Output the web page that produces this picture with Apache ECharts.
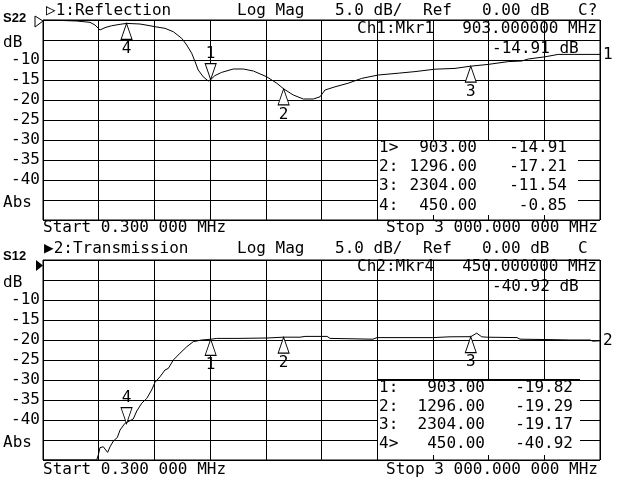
<!DOCTYPE html>
<html>
<head>
<meta charset="utf-8">
<script src="https://cdn.jsdelivr.net/npm/echarts@6/dist/echarts.min.js"></script>
<style>
html,body{margin:0;padding:0;background:#fff;}
#chart{width:628px;height:478px;}
</style>
</head>
<body>
<div id="chart"></div>
<script>
// ---- data ----
const markerFreqs = [903, 1296, 2304, 450];
const s22MarkerVals = [-14.91, -17.21, -11.54, -0.85];
const s12MarkerVals = [-19.82, -19.29, -19.17, -40.92];
const s22Active = 0; // marker 1
const s12Active = 3; // marker 4

const s22Freq = [0.3, 90, 181, 253, 280, 307, 334, 370, 415, 450, 522, 576, 603, 657, 702, 747, 774, 801, 819, 836, 863, 890, 903, 926, 962, 1025, 1079, 1133, 1205, 1259, 1296, 1348, 1402, 1456, 1492, 1519, 1573, 1644, 1716, 1806, 1914, 2004, 2111, 2219, 2304, 2398, 2506, 2578, 2614, 2704, 2775, 2865, 3000];
const s22Db = [-0.05, -0.1, -0.25, -0.58, -1.25, -2.5, -1.9, -1.43, -1.08, -0.85, -1.0, -1.43, -1.68, -2.08, -2.93, -4.58, -6.25, -8.33, -10.4, -12.5, -14.2, -15.25, -14.91, -13.9, -13.1, -12.25, -12.25, -12.75, -14.2, -15.8, -17.21, -18.75, -19.75, -19.75, -19.2, -17.5, -16.7, -15.8, -14.6, -13.75, -13.3, -12.9, -12.3, -12.1, -11.54, -11.1, -10.4, -10.25, -9.75, -9.2, -8.6, -8.6, -8.6];

const s12Freq = [0.3, 289, 298, 307, 325, 334, 348, 361, 379, 400, 415, 442, 450, 486, 505, 532, 559, 585, 603, 630, 657, 675, 702, 738, 774, 810, 855, 903, 936, 1050, 1206, 1296, 1384, 1411, 1530, 1546, 1777, 1799, 2100, 2192, 2304, 2336, 2363, 2391, 2553, 2569, 2731, 2838, 2946, 2962, 3000];
const s12Db = [-50, -50, -48.75, -46.9, -46.7, -47.1, -48.1, -46.7, -45.25, -44.4, -42.5, -40.8, -40.92, -39.75, -37.75, -35.8, -34.6, -32.5, -30.6, -29.2, -27.5, -27.1, -25, -23.3, -21.7, -20.4, -20, -19.82, -19.6, -19.6, -19.5, -19.29, -19.3, -19.1, -19.1, -19.6, -19.8, -19.4, -19.4, -19.2, -19.17, -18.3, -19.2, -19.3, -19.4, -19.8, -19.9, -20.0, -20.0, -20.3, -20.2];

const yLabelMap = {'0': '', '-5': 'dB', '-45': 'Abs', '-50': ''};
const startLabel = 'Start 0.300 000 MHz';
const stopLabel = 'Stop 3 000.000 000 MHz';

// ---- chart ----
const FONT = '"DejaVu Sans Mono", monospace';
const F16 = '16px ' + FONT;

function yFormatter(v) {
  const k = String(v);
  if (k in yLabelMap) {
    const t = yLabelMap[k];
    if (!t) return '';
    return '{w|' + t + '}';
  }
  return k;
}

function xAxisFor(i) {
  return {
    gridIndex: i, type: 'value', min: 0, max: 3000, interval: 300,
    axisLabel: {show: false}, axisTick: {show: false}, axisLine: {show: false},
    splitLine: {show: true, lineStyle: {color: '#000', width: 1}}
  };
}
function yAxisFor(i) {
  return {
    gridIndex: i, type: 'value', min: -50, max: 0, interval: 5,
    axisTick: {show: false}, axisLine: {show: false},
    splitLine: {show: true, lineStyle: {color: '#000', width: 1}},
    axisLabel: {
      margin: 3, color: '#000', fontFamily: FONT, fontSize: 16,
      formatter: yFormatter,
      rich: {w: {width: 37, align: 'left', fontFamily: FONT, fontSize: 16, color: '#000', padding: [6, 0, 0, 0]}}
    }
  };
}

const DOWN_TRI = 'path://M0,0L2,0L1,3Z';
function markers(vals, active) {
  return markerFreqs.map((f, i) => {
    const isAct = i === active;
    return {
      coord: [f, vals[i]],
      name: String(i + 1),
      symbol: isAct ? DOWN_TRI : 'triangle',
      symbolSize: [11, 16],
      symbolOffset: [0, isAct ? -8 : 8],
      label: {show: true, position: isAct ? 'top' : 'bottom', distance: 1, formatter: '{b}',
        color: '#000', fontFamily: FONT, fontSize: 16}
    };
  });
}

function lineSeries(idx, freq, db, vals, active, endText) {
  return {
    type: 'line', xAxisIndex: idx, yAxisIndex: idx,
    data: freq.map((f, i) => [f, db[i]]),
    showSymbol: false, smooth: false,
    lineStyle: {color: '#000', width: 1},
    endLabel: {show: true, formatter: endText, distance: 3, color: '#000', fontFamily: FONT, fontSize: 16},
    markPoint: {
      itemStyle: {color: '#fff', borderColor: '#000', borderWidth: 1},
      data: markers(vals, active)
    }
  };
}

function txt(text, x, y, align, extra) {
  return Object.assign({
    type: 'text', x: x, y: y, z: 20,
    style: {text: text, font: F16, fill: '#000', align: align || 'left', verticalAlign: 'middle'}
  }, extra || {});
}

function tableRows(vals, active, yRows, xFreqEnd, xValEnd) {
  const out = [];
  markerFreqs.forEach((f, i) => {
    const lab = (i + 1) + (i === active ? '>' : ':');
    out.push(txt(lab, 379, yRows[i], 'left'));
    out.push(txt(f.toFixed(2), xFreqEnd, yRows[i], 'right'));
    out.push(txt(vals[i].toFixed(2), xValEnd, yRows[i], 'right'));
  });
  return out;
}

const graphics = [
  // table backgrounds
  {type: 'rect', z: 10, shape: {x: 378, y: 141, width: 200, height: 74}, style: {fill: '#fff'}},
  {type: 'rect', z: 10, shape: {x: 378, y: 381, width: 202, height: 74}, style: {fill: '#fff'}},
  {type: 'rect', z: 11, shape: {x: 378, y: 379, width: 202, height: 2}, style: {fill: '#000'}},
  // reference level triangles
  {type: 'polygon', z: 12, shape: {points: [[35, 16], [43, 21], [35, 27]]}, style: {fill: '#fff', stroke: '#000', lineWidth: 1}},
  {type: 'polygon', z: 12, shape: {points: [[36, 260], [43, 265.5], [36, 271]]}, style: {fill: '#000'}},
  // channel labels
  {type: 'text', x: 3, y: 18, z: 20, style: {text: 'S22', font: 'bold 13px "Liberation Sans", Arial, sans-serif', fill: '#000', verticalAlign: 'middle'}},
  {type: 'text', x: 3, y: 256, z: 20, style: {text: 'S12', font: 'bold 13px "Liberation Sans", Arial, sans-serif', fill: '#000', verticalAlign: 'middle'}},
  // headers
  txt('\u25B71:Reflection', 46, 11),
  txt('Log Mag', 237, 11),
  txt('5.0 dB/', 335, 11),
  txt('Ref', 423, 11),
  txt('0.00 dB', 482, 11),
  txt('C?', 578, 11),
  txt('\u25B62:Transmission', 44, 249),
  txt('Log Mag', 237, 249),
  txt('5.0 dB/', 335, 249),
  txt('Ref', 423, 249),
  txt('0.00 dB', 482, 249),
  txt('C', 578, 249),
  // marker readouts
  txt('Ch1:Mkr' + (s22Active + 1), 357, 29),
  txt(markerFreqs[s22Active].toFixed(6) + ' MHz', 597, 29, 'right'),
  txt(s22MarkerVals[s22Active].toFixed(2) + ' dB', 492, 49),
  txt('Ch2:Mkr' + (s12Active + 1), 357, 267),
  txt(markerFreqs[s12Active].toFixed(6) + ' MHz', 597, 267, 'right'),
  txt(s12MarkerVals[s12Active].toFixed(2) + ' dB', 492, 287),
  // start / stop
  txt(startLabel, 43, 228),
  txt(stopLabel, 598, 228, 'right'),
  txt(startLabel, 43, 470),
  txt(stopLabel, 598, 470, 'right')
].concat(
  tableRows(s22MarkerVals, s22Active, [148, 167, 186, 205.5], 477, 567),
  tableRows(s12MarkerVals, s12Active, [387.5, 406.5, 425, 443.5], 485, 573)
);

const chart = echarts.init(document.getElementById('chart'), null, {renderer: 'canvas'});
chart.setOption({
  animation: false,
  backgroundColor: '#fff',
  grid: [
    {left: 43, top: 20, width: 557, height: 200, show: true, borderColor: '#000', borderWidth: 1},
    {left: 43, top: 260, width: 557, height: 200, show: true, borderColor: '#000', borderWidth: 1}
  ],
  xAxis: [xAxisFor(0), xAxisFor(1)],
  yAxis: [yAxisFor(0), yAxisFor(1)],
  series: [
    lineSeries(0, s22Freq, s22Db, s22MarkerVals, s22Active, '1'),
    lineSeries(1, s12Freq, s12Db, s12MarkerVals, s12Active, '2')
  ],
  graphic: graphics
});
</script>
</body>
</html>
